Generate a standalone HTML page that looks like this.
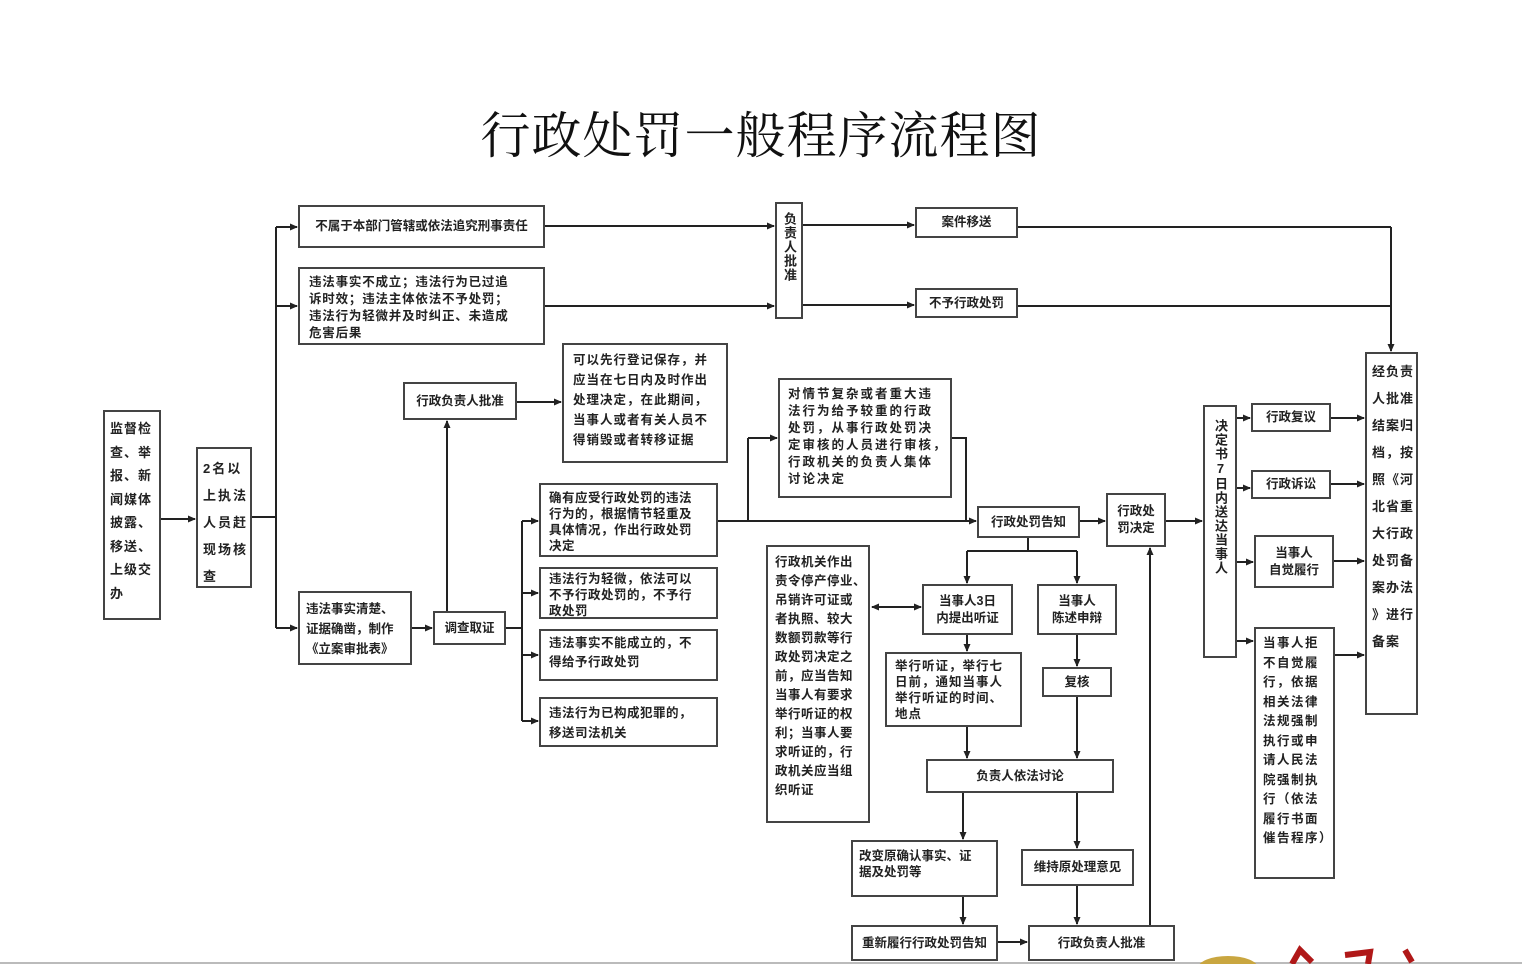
<!DOCTYPE html>
<html><head><meta charset="utf-8">
<style>
html,body{margin:0;padding:0;background:#fff;}
body{width:1522px;height:964px;position:relative;overflow:hidden;font-family:"Liberation Sans","Noto Sans CJK SC",sans-serif;color:#222;}
.b{position:absolute;border:2px solid #444;box-sizing:border-box;background:#fff;font-size:12.5px;font-weight:bold;line-height:17px;padding:4px 6px;white-space:nowrap;overflow:visible;}
.c{display:flex;align-items:center;justify-content:center;text-align:center;padding:0;}
.v{line-height:27px;font-size:13px;padding:6px 5px;letter-spacing:1px;}
.vert{writing-mode:vertical-rl;text-orientation:upright;display:flex;align-items:center;justify-content:flex-start;padding:8px 0;font-size:13px;line-height:14px;letter-spacing:1px;}
.t{position:absolute;left:0;width:1522px;top:96px;text-align:center;font-family:"Liberation Serif","Noto Serif CJK SC",serif;font-size:50px;letter-spacing:1px;color:#111;}
svg{position:absolute;left:0;top:0;}
</style></head><body>
<div class="t">行政处罚一般程序流程图</div>
<svg width="1522" height="964" viewBox="0 0 1522 964">
<defs><marker id="a" markerWidth="8" markerHeight="8" refX="7" refY="4" orient="auto" markerUnits="userSpaceOnUse"><path d="M0,0.5 L8,4 L0,7.5z" fill="#222"/></marker>
<marker id="s" markerWidth="8" markerHeight="8" refX="1" refY="4" orient="auto" markerUnits="userSpaceOnUse"><path d="M8,0.5 L0,4 L8,7.5z" fill="#222"/></marker></defs>
<g stroke="#222" stroke-width="2" fill="none">
<line x1="161" y1="519" x2="195" y2="519" marker-end="url(#a)"/>
<line x1="252" y1="517" x2="276" y2="517"/>
<line x1="276" y1="227" x2="276" y2="628"/>
<line x1="276" y1="227" x2="297" y2="227" marker-end="url(#a)"/>
<line x1="276" y1="306" x2="297" y2="306" marker-end="url(#a)"/>
<line x1="276" y1="628" x2="297" y2="628" marker-end="url(#a)"/>
<line x1="545" y1="226" x2="774" y2="226" marker-end="url(#a)"/>
<line x1="545" y1="306" x2="774" y2="306" marker-end="url(#a)"/>
<line x1="803" y1="225" x2="914" y2="225" marker-end="url(#a)"/>
<line x1="803" y1="305" x2="914" y2="305" marker-end="url(#a)"/>
<line x1="1018" y1="227" x2="1391" y2="227"/>
<line x1="1018" y1="306" x2="1391" y2="306"/>
<line x1="1391" y1="227" x2="1391" y2="351" marker-end="url(#a)"/>
<line x1="412" y1="628" x2="432" y2="628" marker-end="url(#a)"/>
<line x1="447" y1="611" x2="447" y2="421" marker-end="url(#a)"/>
<line x1="517" y1="402" x2="561" y2="402" marker-end="url(#a)"/>
<line x1="506" y1="628" x2="522" y2="628"/>
<line x1="522" y1="521" x2="522" y2="721"/>
<line x1="522" y1="521" x2="538" y2="521" marker-end="url(#a)"/>
<line x1="522" y1="593" x2="538" y2="593" marker-end="url(#a)"/>
<line x1="522" y1="655" x2="538" y2="655" marker-end="url(#a)"/>
<line x1="522" y1="721" x2="538" y2="721" marker-end="url(#a)"/>
<line x1="718" y1="521" x2="976" y2="521" marker-end="url(#a)"/>
<line x1="748" y1="521" x2="748" y2="438"/>
<line x1="748" y1="438" x2="777" y2="438" marker-end="url(#a)"/>
<polyline points="952,438 966,438 966,521"/>
<line x1="1080" y1="521" x2="1105" y2="521" marker-end="url(#a)"/>
<line x1="1166" y1="521" x2="1202" y2="521" marker-end="url(#a)"/>
<line x1="1028" y1="538" x2="1028" y2="551"/>
<line x1="967" y1="551" x2="1077" y2="551"/>
<line x1="967" y1="551" x2="967" y2="583" marker-end="url(#a)"/>
<line x1="1077" y1="551" x2="1077" y2="583" marker-end="url(#a)"/>
<line x1="872" y1="607" x2="921" y2="607" marker-start="url(#s)" marker-end="url(#a)"/>
<line x1="967" y1="635" x2="967" y2="651" marker-end="url(#a)"/>
<line x1="1077" y1="635" x2="1077" y2="666" marker-end="url(#a)"/>
<line x1="967" y1="727" x2="967" y2="758" marker-end="url(#a)"/>
<line x1="1077" y1="697" x2="1077" y2="758" marker-end="url(#a)"/>
<line x1="963" y1="793" x2="963" y2="839" marker-end="url(#a)"/>
<line x1="1077" y1="793" x2="1077" y2="848" marker-end="url(#a)"/>
<line x1="963" y1="897" x2="963" y2="924" marker-end="url(#a)"/>
<line x1="1077" y1="886" x2="1077" y2="924" marker-end="url(#a)"/>
<line x1="998" y1="942" x2="1027" y2="942" marker-end="url(#a)"/>
<line x1="1150" y1="925" x2="1150" y2="548" marker-end="url(#a)"/>
<line x1="1237" y1="418" x2="1250" y2="418" marker-end="url(#a)"/>
<line x1="1237" y1="488" x2="1250" y2="488" marker-end="url(#a)"/>
<line x1="1237" y1="562" x2="1253" y2="562" marker-end="url(#a)"/>
<line x1="1237" y1="641" x2="1253" y2="641" marker-end="url(#a)"/>
<line x1="1331" y1="418" x2="1364" y2="418" marker-end="url(#a)"/>
<line x1="1331" y1="484" x2="1364" y2="484" marker-end="url(#a)"/>
<line x1="1334" y1="561" x2="1364" y2="561" marker-end="url(#a)"/>
<line x1="1335" y1="655" x2="1364" y2="655" marker-end="url(#a)"/>
</g>
<line x1="0" y1="963" x2="1522" y2="963" stroke="#bbb" stroke-width="2"/>
<ellipse cx="1228" cy="968" rx="30" ry="12" fill="#c9a640"/>
<path d="M1292,964 L1300,950 L1312,962 M1345,955 L1370,952 L1368,964 M1405,950 L1412,962" stroke="#b01818" stroke-width="6" fill="none"/>
</svg>

<div class="b v" style="left:103px;top:410px;width:58px;height:210px;line-height:23.5px;padding-top:5px;">监督检<br>查、举<br>报、新<br>闻媒体<br>披露、<br>移送、<br>上级交<br>办</div>
<div class="b v" style="left:196px;top:447px;width:56px;height:141px;letter-spacing:2px;">2名以<br>上执法<br>人员赶<br>现场核<br>查</div>
<div class="b c" style="left:298px;top:205px;width:247px;height:43px;">不属于本部门管辖或依法追究刑事责任</div>
<div class="b" style="left:298px;top:267px;width:247px;height:78px;padding:5px 9px;letter-spacing:0.8px;">违法事实不成立；违法行为已过追<br>诉时效；违法主体依法不予处罚；<br>违法行为轻微并及时纠正、未造成<br>危害后果</div>
<div class="b vert" style="left:775px;top:202px;width:28px;height:117px;">负责人批准</div>
<div class="b c" style="left:915px;top:207px;width:103px;height:31px;">案件移送</div>
<div class="b c" style="left:915px;top:288px;width:103px;height:30px;">不予行政处罚</div>
<div class="b c" style="left:403px;top:382px;width:114px;height:38px;">行政负责人批准</div>
<div class="b" style="left:562px;top:343px;width:166px;height:120px;padding:5px 9px;line-height:20px;letter-spacing:1px;">可以先行登记保存，并<br>应当在七日内及时作出<br>处理决定，在此期间，<br>当事人或者有关人员不<br>得销毁或者转移证据</div>
<div class="b" style="left:298px;top:591px;width:114px;height:74px;padding:6px 6px;line-height:20px;">违法事实清楚、<br>证据确凿，制作<br>《立案审批表》</div>
<div class="b c" style="left:433px;top:611px;width:73px;height:34px;">调查取证</div>
<div class="b" style="left:539px;top:483px;width:179px;height:74px;padding:5px 8px;line-height:16px;letter-spacing:0.5px;">确有应受行政处罚的违法<br>行为的，根据情节轻重及<br>具体情况，作出行政处罚<br>决定</div>
<div class="b" style="left:539px;top:567px;width:179px;height:52px;padding:2px 8px;line-height:16px;letter-spacing:0.5px;">违法行为轻微，依法可以<br>不予行政处罚的，不予行<br>政处罚</div>
<div class="b" style="left:539px;top:629px;width:179px;height:52px;padding:3px 8px;line-height:19px;letter-spacing:0.5px;">违法事实不能成立的，不<br>得给予行政处罚</div>
<div class="b" style="left:539px;top:697px;width:179px;height:50px;padding:4px 8px;line-height:20px;letter-spacing:0.5px;">违法行为已构成犯罪的，<br>移送司法机关</div>
<div class="b" style="left:778px;top:378px;width:174px;height:120px;padding:6px 8px;line-height:17px;letter-spacing:2px;">对情节复杂或者重大违<br>法行为给予较重的行政<br>处罚，从事行政处罚决<br>定审核的人员进行审核，<br>行政机关的负责人集体<br>讨论决定</div>
<div class="b c" style="left:977px;top:506px;width:103px;height:32px;">行政处罚告知</div>
<div class="b c" style="left:1106px;top:493px;width:60px;height:54px;line-height:17px;">行政处<br>罚决定</div>
<div class="b" style="left:766px;top:545px;width:104px;height:278px;padding:6px 7px;line-height:19px;letter-spacing:0.5px;">行政机关作出<br>责令停产停业、<br>吊销许可证或<br>者执照、较大<br>数额罚款等行<br>政处罚决定之<br>前，应当告知<br>当事人有要求<br>举行听证的权<br>利；当事人要<br>求听证的，行<br>政机关应当组<br>织听证</div>
<div class="b c" style="left:922px;top:584px;width:91px;height:51px;line-height:17px;">当事人3日<br>内提出听证</div>
<div class="b c" style="left:1037px;top:584px;width:80px;height:51px;line-height:17px;">当事人<br>陈述申辩</div>
<div class="b" style="left:885px;top:652px;width:137px;height:75px;padding:4px 8px;line-height:16px;letter-spacing:1px;">举行听证，举行七<br>日前，通知当事人<br>举行听证的时间、<br>地点</div>
<div class="b c" style="left:1042px;top:667px;width:70px;height:30px;">复核</div>
<div class="b c" style="left:926px;top:759px;width:188px;height:34px;">负责人依法讨论</div>
<div class="b" style="left:851px;top:840px;width:147px;height:57px;padding:6px 6px;line-height:16px;">改变原确认事实、证<br>据及处罚等</div>
<div class="b c" style="left:1021px;top:849px;width:113px;height:37px;">维持原处理意见</div>
<div class="b c" style="left:851px;top:925px;width:147px;height:36px;">重新履行行政处罚告知</div>
<div class="b c" style="left:1028px;top:925px;width:147px;height:36px;">行政负责人批准</div>
<div class="b vert" style="left:1203px;top:405px;width:34px;height:253px;padding-top:12px;">决定书7日内送达当事人</div>
<div class="b c" style="left:1251px;top:403px;width:80px;height:29px;">行政复议</div>
<div class="b c" style="left:1251px;top:470px;width:80px;height:29px;">行政诉讼</div>
<div class="b c" style="left:1254px;top:535px;width:80px;height:53px;line-height:17px;">当事人<br>自觉履行</div>
<div class="b" style="left:1254px;top:627px;width:81px;height:252px;padding:5px 7px;line-height:19.5px;letter-spacing:1.5px;">当事人拒<br>不自觉履<br>行，依据<br>相关法律<br>法规强制<br>执行或申<br>请人民法<br>院强制执<br>行（依法<br>履行书面<br>催告程序）</div>
<div class="b v" style="left:1365px;top:352px;width:53px;height:363px;padding:4px 5px;">经负责<br>人批准<br>结案归<br>档，按<br>照《河<br>北省重<br>大行政<br>处罚备<br>案办法<br>》进行<br>备案</div>
</body></html>
